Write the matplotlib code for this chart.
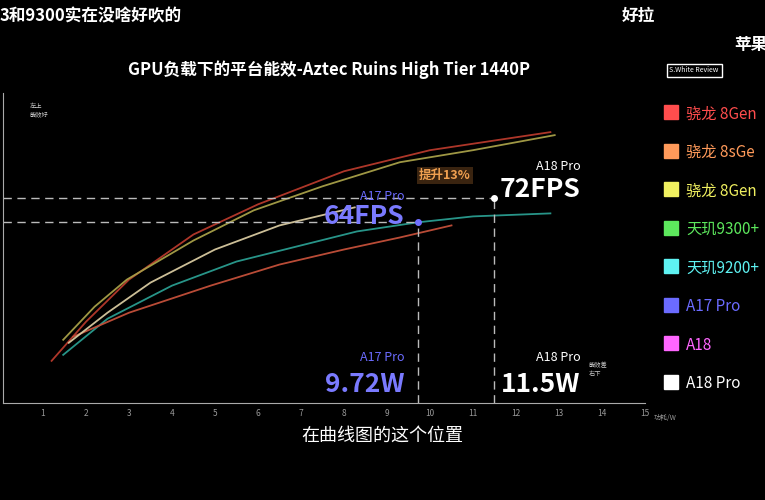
import matplotlib.pyplot as plt
import numpy as np

plt.rcParams['font.family'] = ['Noto Sans CJK SC', 'DejaVu Sans']

# curves: power (W) vs FPS
curve_names = ["骁龙 8Gen2", "骁龙 8Gen3", "天玑9200+", "A17 Pro", "A18 Pro"]
curve_colors = ["#b83a2c", "#a8a048", "#2a9d90", "#c4503a", "#d8caa0"]
curve_x = [
    [1.2, 2.0, 3.0, 4.5, 6.0, 8.0, 10.0, 12.8],
    [1.47, 2.2, 2.95, 4.5, 5.9, 7.5, 9.3, 11.0, 12.9],
    [1.47, 2.5, 4.0, 5.5, 6.9, 8.3, 9.7, 11.0, 12.8],
    [1.7, 3.0, 4.9, 6.5, 8.0, 9.3, 10.5],
    [1.6, 2.5, 3.5, 5.0, 6.5, 8.25],
]
curve_y = [
    [18, 31, 45, 60, 70, 81, 88, 94],
    [25, 36, 45, 58, 68, 76, 84, 88, 93],
    [20, 32, 43, 51, 56, 61, 64, 66, 67],
    [26, 34, 43, 50, 55, 59, 63],
    [24, 34, 44, 55, 63, 69],
]

legend_names = ["骁龙 8Gen", "骁龙 8sGe", "骁龙 8Gen", "天玑9300+", "天玑9200+", "A17 Pro", "A18", "A18 Pro"]
legend_colors = ["#ff4d4d", "#ff9a5a", "#f0f060", "#5de85d", "#5ef2f2", "#6b6bff", "#ff66ff", "#ffffff"]

a17_w, a17_fps = 9.72, 64
a18_w, a18_fps = 11.5, 72
xticks = list(range(1, 16))

fig = plt.figure(figsize=(7.65, 5.0), dpi=100, facecolor="black")
ax = fig.add_axes([3 / 765, 1 - 403 / 500, 642 / 765, 310 / 500], facecolor="black")
ax.set_xlim(0.07, 15.0)
ax.set_ylim(4, 107)

for x, y, c in zip(curve_x, curve_y, curve_colors):
    ax.plot(x, y, color=c, lw=1.3, alpha=0.95)

# dashed guide lines
dash = dict(ls=(0, (6, 4)), color="#bbbbbb", lw=1)
ax.plot([0.07, a17_w], [a17_fps, a17_fps], **dash)
ax.plot([a17_w, a17_w], [4, a17_fps], **dash)
ax.plot([0.07, a18_w], [a18_fps, a18_fps], **dash)
ax.plot([a18_w, a18_w], [4, a18_fps], **dash)
ax.plot([a17_w], [a17_fps], "o", color="#7070ff", ms=4)
ax.plot([a18_w], [a18_fps], "o", color="white", ms=4)

ax.text(9.4, 71.5, "A17 Pro", color="#6b6bff", fontsize=9, ha="right", fontstyle="italic")
ax.text(9.4, 63.5, "64FPS", color="#7a7aff", fontsize=19, ha="right", fontweight="bold")
ax.text(13.5, 81.5, "A18 Pro", color="white", fontsize=9, ha="right", fontstyle="italic")
ax.text(13.5, 72.5, "72FPS", color="white", fontsize=19, ha="right", fontweight="bold")
ax.text(10.95, 78.5, "提升13%", color="#f0a050", fontsize=9, ha="right", fontweight="bold",
        bbox=dict(facecolor="#3a2410", edgecolor="none", pad=1.5))
ax.text(9.4, 18, "A17 Pro", color="#6b6bff", fontsize=9, ha="right", fontstyle="italic")
ax.text(9.4, 7.5, "9.72W", color="#7a7aff", fontsize=19, ha="right", fontweight="bold")
ax.text(13.5, 18, "A18 Pro", color="white", fontsize=9, ha="right", fontstyle="italic")
ax.text(13.5, 7.5, "11.5W", color="white", fontsize=19, ha="right", fontweight="bold")
ax.text(13.7, 13, "能效差\n右下", color="#cccccc", fontsize=4.5)
ax.text(0.7, 99, "左上\n能效好", color="#cccccc", fontsize=4.5)

ax.set_xticks(xticks)
ax.set_xticklabels([str(t) for t in xticks], color="#999999", fontsize=6)
ax.set_yticks([])
ax.tick_params(axis="x", length=0, pad=4)
for s in ["top", "right"]:
    ax.spines[s].set_visible(False)
for s in ["left", "bottom"]:
    ax.spines[s].set_color("#aaaaaa")
ax.text(15.2, -1.5, "功耗/W", color="#999999", fontsize=5, clip_on=False)

# title and overlay captions
fig.text(0.43, 0.85, "GPU负载下的平台能效-Aztec Ruins High Tier 1440P", color="white",
         fontsize=12, fontweight="bold", ha="center")
fig.text(0.0, 0.958, "3和9300实在没啥好吹的", color="white", fontsize=12, fontweight="bold")
fig.text(0.813, 0.958, "好拉", color="white", fontsize=12, fontweight="bold")
fig.text(0.96, 0.9, "苹果", color="white", fontsize=12, fontweight="bold")
fig.text(0.5, 0.118, "在曲线图的这个位置", color="white", fontsize=13, ha="center")
fig.text(0.875, 0.855, "S.White Review", color="white", fontsize=5,
         bbox=dict(facecolor="black", edgecolor="white", pad=2))

# legend on the right, clipped by the frame
for i, (name, c) in enumerate(zip(legend_names, legend_colors)):
    yy = 1 - (112 + i * 38.5) / 500
    fig.patches.append(plt.Rectangle((664 / 765, yy - 0.014), 14 / 765, 14 / 500,
                                     transform=fig.transFigure, color=c))
    fig.text(686 / 765, yy - 0.004, name, color=c, fontsize=11, va="center")

plt.savefig("out.png", dpi=100, facecolor="black")
